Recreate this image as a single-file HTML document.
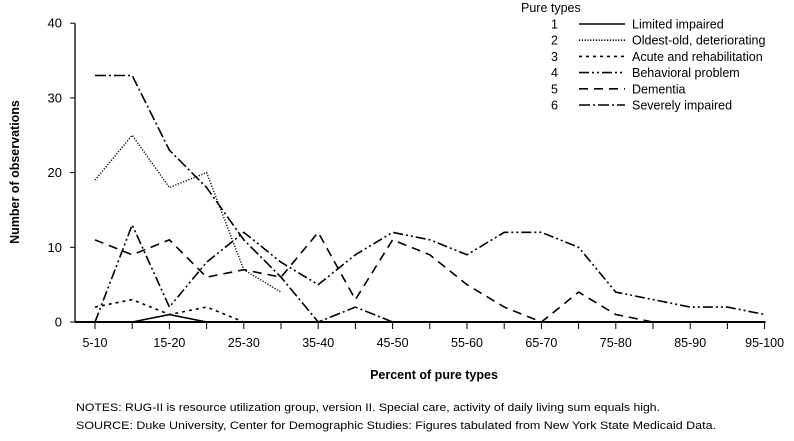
<!DOCTYPE html>
<html><head><meta charset="utf-8"><style>
body{margin:0;background:#fff;}
svg{display:block;font-family:"Liberation Sans",Arial,sans-serif;}
</style></head><body>
<svg id="chart" width="794" height="441" xmlns="http://www.w3.org/2000/svg"></svg>
<script>
const categories=["5-10","10-15","15-20","20-25","25-30","30-35","35-40","40-45","45-50","50-55","55-60","60-65","65-70","70-75","75-80","80-85","85-90","90-95","95-100"];
const yTicks=[0,10,20,30,40];
const s1=[0,0,1,0,0,0,0,0,0,0,0,0,0,0,0,0,0,0,0];
const s2=[19,25,18,20,7,4];
const s3=[2,3,1,2,0];
const s4=[0,13,2,8,12,8,5,9,12,11,9,12,12,10,4,3,2,2,1];
const s5=[11,9,11,6,7,6,12,3,11,9,5,2,0,4,1,0];
const s6=[33,33,23,18,11,6,0,2,0];
const seriesNames=["Limited impaired","Oldest-old, deteriorating","Acute and rehabilitation","Behavioral problem","Dementia","Severely impaired"];
const seriesData=[s1,s2,s3,s4,s5,s6];
const dashes=["","1.2,1.6","3,4","10,3,2,3,2,3","9,6","11,3,2,3"];
const widths=[1.6,1.4,1.6,1.6,1.6,1.6];
const NS="http://www.w3.org/2000/svg";
const svg=document.getElementById('chart');
const x0=95,dx=37.2,y0=322,ppu=7.47;
function xs(i){return x0+i*dx;}
function ys(v){return y0-v*ppu;}
function mk(t,a,p){const e=document.createElementNS(NS,t);for(const k in a)e.setAttribute(k,a[k]);(p||svg).appendChild(e);return e;}
// axes
let ax=mk('line',{x1:75,y1:ys(40),x2:75,y2:y0,stroke:'#000','stroke-width':1.3});


let bx=mk('line',{x1:75,y1:y0,x2:xs(18)+1,y2:y0,stroke:'#000','stroke-width':2});


yTicks.forEach(v=>{
  let t=mk('line',{x1:70,y1:ys(v),x2:75,y2:ys(v),stroke:'#000','stroke-width':1});
  
  
  let l=mk('text',{x:62,y:ys(v)+4.5,'text-anchor':'end','font-size':13});
  l.textContent=v;
  
  
});
categories.forEach((c,i)=>{
  let t=mk('line',{x1:xs(i),y1:y0,x2:xs(i),y2:y0+7,stroke:'#000','stroke-width':1});
  
  
  if(i%2===0){
    let l=mk('text',{x:xs(i),y:y0+25,'text-anchor':'middle','font-size':12.5});
    l.textContent=c;
    
    
  }
});
seriesData.forEach((d,k)=>{
  const pts=d.map((v,i)=>xs(i)+','+ys(v)).join(' ');
  let p=mk('polyline',{points:pts,fill:'none',stroke:'#000','stroke-width':widths[k],'stroke-dasharray':dashes[k]});
  
  
});
// legend
let lt=mk('text',{x:521,y:12,'font-size':12.5});
lt.textContent='Pure types';


seriesNames.forEach((n,k)=>{
  const y=24+k*16.2;
  let g=mk('g',{});
  
  
  let num=mk('text',{x:551,y:y+4.5,'font-size':12.5},g);num.textContent=k+1;
  mk('line',{x1:579,y1:y,x2:625,y2:y,stroke:'#000','stroke-width':1.6,'stroke-dasharray':dashes[k]},g);
  let tx=mk('text',{x:632,y:y+4.5,'font-size':12.5},g);tx.textContent=n;
});
</script>
<svg style="position:absolute;left:0;top:0" width="794" height="441" xmlns="http://www.w3.org/2000/svg">
<text transform="translate(19,172) rotate(-90)" text-anchor="middle" font-size="12.5" font-weight="bold" font-family="Liberation Sans,Arial,sans-serif">Number of observations</text>
<text x="434" y="379" text-anchor="middle" font-size="12.5" font-weight="bold" font-family="Liberation Sans,Arial,sans-serif">Percent of pure types</text>
<text x="76" y="411" font-size="11" textLength="584" lengthAdjust="spacingAndGlyphs" font-family="Liberation Sans,Arial,sans-serif">NOTES: RUG-II is resource utilization group, version II.  Special care, activity of daily living sum equals high.</text>
<text x="76" y="429" font-size="11" textLength="640" lengthAdjust="spacingAndGlyphs" font-family="Liberation Sans,Arial,sans-serif">SOURCE: Duke University, Center for Demographic Studies: Figures tabulated from New York State Medicaid Data.</text>
</svg>
</body></html>
